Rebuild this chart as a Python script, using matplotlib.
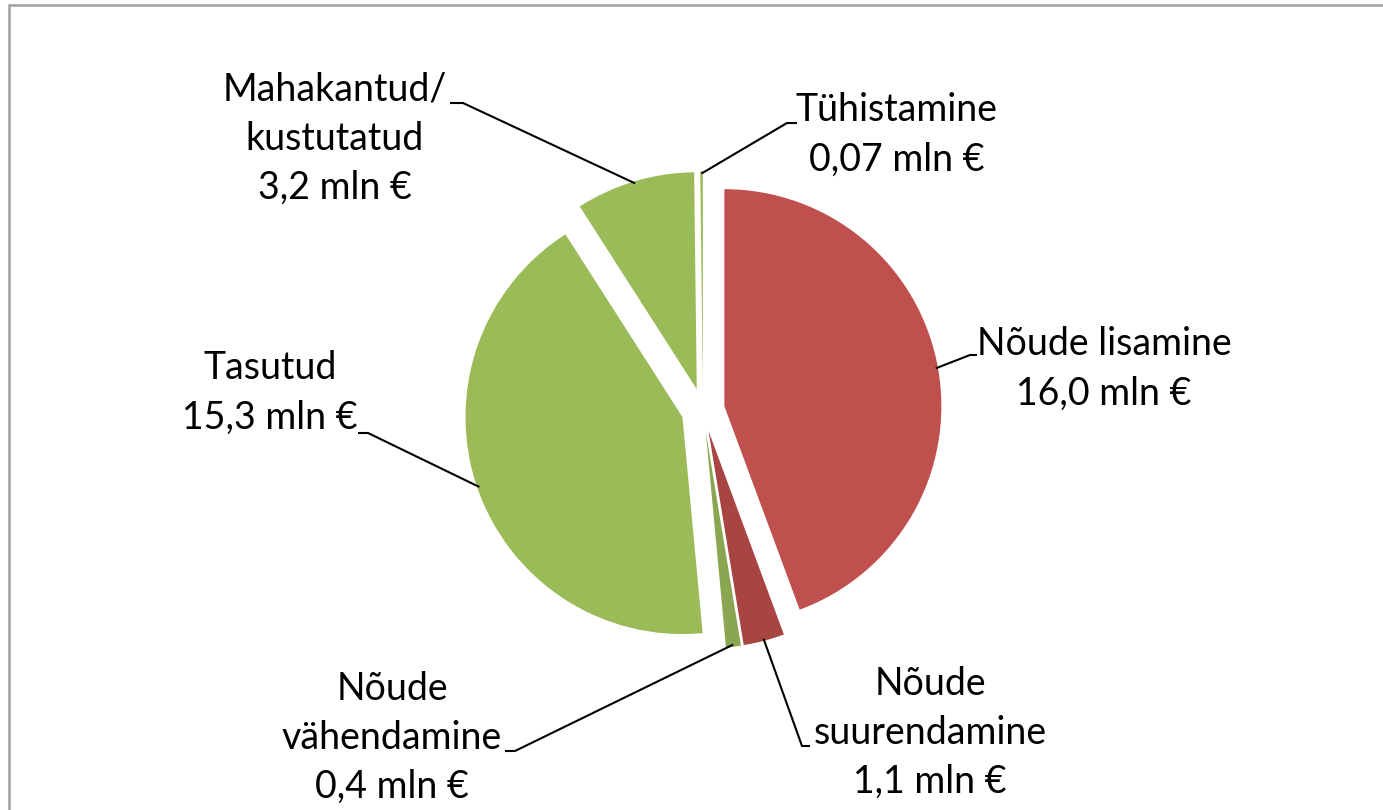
"""
pie of debt changes (mln EUR), exploded slices with leader labels
"""
import numpy as np
import matplotlib
matplotlib.use('Agg')
import matplotlib.pyplot as plt
from matplotlib.patches import Rectangle

# data
labels = ['Nõude lisamine', 'Nõude\nsuurendamine', 'Nõude\nvähendamine',
          'Tasutud', 'Mahakantud/\nkustutatud', 'Tühistamine']
values = [16.0, 1.1, 0.4, 15.3, 3.2, 0.07]
value_text = ['16,0', '1,1', '0,4', '15,3', '3,2', '0,07']
colors = ['#C0504D', '#A84542', '#8BA650', '#9BBB59', '#9BBB59', '#9BBB59']

W, H = 1383, 810
CX, CY, R = 703, 410, 217  # pie centre and radius in pixels


def px(x, y):
    # pixel (from top-left) -> data coords
    return (x - CX) / R, (CY - y) / R


# label centre, elbow start, elbow end (pixels) for each slice
label_pos = [(1104, 369), (930, 733), (392, 738), (270, 393), (335, 139), (897, 135)]
elbows = [((977, 355), (970, 355)),
          ((810, 746), (802, 746)),
          ((505, 751), (515, 751)),
          ((358, 433), (368, 433)),
          ((450, 103), (463, 103)),
          ((797, 123), (787, 123))]

plt.rcParams['font.family'] = ['Lato', 'DejaVu Sans']

fig = plt.figure(figsize=(W / 100, H / 100), dpi=100)
ax = fig.add_axes([0, 0, 1, 1])

wedges, _ = ax.pie(values, colors=colors, startangle=90, counterclock=False,
                   explode=[0.1] * len(values), radius=1.0,
                   wedgeprops=dict(linewidth=0))
ax.set_aspect('auto')
ax.set_xlim(-CX / R, (W - CX) / R)
ax.set_ylim(-(H - CY) / R, CY / R)
ax.axis('off')

for i, w in enumerate(wedges):
    mid = np.deg2rad((w.theta1 + w.theta2) / 2)
    end = (1.09 * np.cos(mid), 1.09 * np.sin(mid))
    (x0, y0), (x1, y1) = elbows[i]
    p0 = px(x0, y0)
    p1 = px(x1, y1)
    ax.plot([p0[0], p1[0], end[0]], [p0[1], p1[1], end[1]], color='black', lw=1.5,
            solid_capstyle='butt')
    lx, ly = px(*label_pos[i])
    ax.text(lx, ly, labels[i] + '\n' + value_text[i] + ' mln €', ha='center',
            va='center', fontsize=27, linespacing=1.45, color='black')

# chart frame
fig.patches.append(Rectangle((9 / W, -0.1), 2, (H - 5) / H + 0.1, transform=fig.transFigure,
                             fill=False, edgecolor='#A0A0A0', lw=1.8))

fig.savefig('out.png', dpi=100)
